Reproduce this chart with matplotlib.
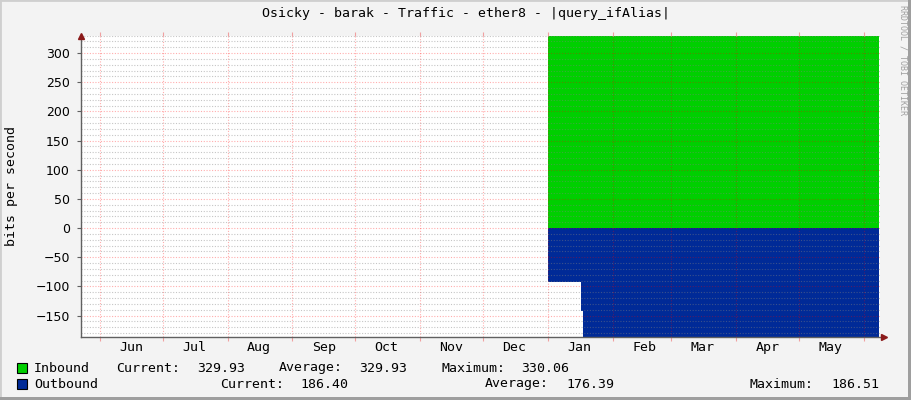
import matplotlib
matplotlib.use("Agg")
import matplotlib.dates as mdates
import matplotlib.pyplot as plt
import pandas as pd
from matplotlib.patches import Rectangle
from matplotlib.ticker import MultipleLocator

W, H = 911, 400
MONO = "DejaVu Sans Mono"

TITLE = "Osicky - barak - Traffic - ether8 - |query_ifAlias|"
Y_LABEL = "bits per second"
WATERMARK = "RRDTOOL / TOBI OETIKER"

# step data: each value holds until the next date
inbound_dates = ["2015-01-01 00:00", "2015-06-08 06:00"]
inbound_values = [330.06, 329.93]
outbound_dates = ["2015-01-01 00:00", "2015-01-17 00:00", "2015-01-18 00:00",
                  "2015-06-08 06:00"]
outbound_values = [92.6, 143.0, 186.51, 186.40]

y_ticks = [-150, -100, -50, 0, 50, 100, 150, 200, 250, 300]

legend_rows = [
    ("Inbound", "#00CF00", [("Current:", 116), ("329.93", 197), ("Average:", 279),
                            ("329.93", 359), ("Maximum:", 441), ("330.06", 521)]),
    ("Outbound", "#002A97", [("Current:", 220), ("186.40", 300), ("Average:", 485),
                             ("176.39", 566), ("Maximum:", 750), ("186.51", 831)]),
]

COLORS = {
    "canvas": "#F3F3F3",
    "minor": "#808080",
    "major": "#FF0000",
    "axis": "#606060",
    "arrow": "#8B1A1A",
    "text": "#000000",
}
DOTS = (0, (1, 1.5))


def px(x, y):
    return x / W, 1 - y / H


fig = plt.figure(figsize=(W / 100, H / 100), dpi=100)
fig.patch.set_facecolor(COLORS["canvas"])

# 3d-ish frame around the canvas
fig.patches.append(Rectangle((0, 0), 1, 1, transform=fig.transFigure, fill=False,
                             edgecolor="#CFCFCF", linewidth=2))
fig.patches.append(Rectangle(px(908, 400), 3 / W, 1, transform=fig.transFigure,
                             facecolor="#9E9E9E", edgecolor="none"))
fig.patches.append(Rectangle((0, 0), 1, 3 / H, transform=fig.transFigure,
                             facecolor="#9E9E9E", edgecolor="none"))

left, top = px(81, 35.5)
right, bottom = px(880, 336.8)
ax = fig.add_axes([left, bottom, right - left, top - bottom])
ax.set_facecolor("white")

in_x = pd.to_datetime(inbound_dates)
out_x = pd.to_datetime(outbound_dates)
ax.fill_between(in_x, 0, inbound_values, step="post", color="#00CF00",
                linewidth=0, zorder=1)
ax.fill_between(out_x, 0, [-v for v in outbound_values], step="post",
                color="#002A97", linewidth=0, zorder=1)

ax.set_xlim(pd.Timestamp("2014-05-23"), pd.Timestamp("2015-06-08 16:00"))
ax.set_ylim(-186.51, 330.06)

# x axis: labels mid-month, grid at month starts
ax.xaxis.set_major_locator(mdates.MonthLocator(bymonthday=16))
ax.xaxis.set_major_formatter(mdates.DateFormatter("%b"))
ax.xaxis.set_minor_locator(mdates.MonthLocator())
ax.tick_params(axis="x", which="major", length=0, pad=3, labelsize=9.5)
ax.tick_params(axis="x", which="minor", length=3, color="#F0A0A0", width=0.8,
               top=True)
ax.grid(True, axis="x", which="minor", color=COLORS["major"], alpha=0.32,
        linestyle=DOTS, linewidth=0.8, zorder=2)

# y axis
ax.set_yticks(y_ticks)
ax.yaxis.set_minor_locator(MultipleLocator(10))
ax.tick_params(axis="y", which="major", length=3, color=COLORS["axis"],
               labelsize=9, pad=5)
ax.tick_params(axis="y", which="minor", length=0)
ax.grid(True, axis="y", which="minor", color=COLORS["minor"], alpha=0.45,
        linestyle=DOTS, linewidth=0.8, zorder=2)
ax.grid(True, axis="y", which="major", color=COLORS["major"], alpha=0.32,
        linestyle=DOTS, linewidth=0.8, zorder=2)
ax.set_axisbelow(False)
for lbl in ax.get_xticklabels():
    lbl.set_family(MONO)

for side in ("top", "right"):
    ax.spines[side].set_visible(False)
for side in ("left", "bottom"):
    ax.spines[side].set_color(COLORS["axis"])
    ax.spines[side].set_linewidth(1.0)
    ax.spines[side].set_zorder(3)

# arrow heads at the axis ends
ax.plot([0], [1.0], marker="^", markersize=5, color=COLORS["arrow"],
        transform=ax.transAxes, clip_on=False, zorder=4)
ax.plot([1.005], [0], marker=">", markersize=5, color=COLORS["arrow"],
        transform=ax.transAxes, clip_on=False, zorder=4)

# texts
fig.text(*px(466, 14), TITLE, ha="center", va="center", family=MONO,
         fontsize=9.5, color=COLORS["text"])
fig.text(*px(12, 186), Y_LABEL, ha="center", va="center", rotation=90,
         family=MONO, fontsize=9.5, color=COLORS["text"])
fig.text(*px(903, 5), WATERMARK, ha="center", va="top", rotation=270,
         family=MONO, fontsize=6, color="#A0A0A0")

for i, (name, color, items) in enumerate(legend_rows):
    y = 368 + i * 16
    fig.patches.append(Rectangle(px(17, y + 5), 10 / W, 10 / H,
                                 transform=fig.transFigure, facecolor=color,
                                 edgecolor="black", linewidth=0.8))
    fig.text(*px(34, y), name, ha="left", va="center", family=MONO,
             fontsize=9.5, color=COLORS["text"])
    for text, x in items:
        fig.text(*px(x, y), text, ha="left", va="center", family=MONO,
                 fontsize=9.5, color=COLORS["text"])

fig.savefig("out.png", dpi=100, facecolor=fig.get_facecolor())
